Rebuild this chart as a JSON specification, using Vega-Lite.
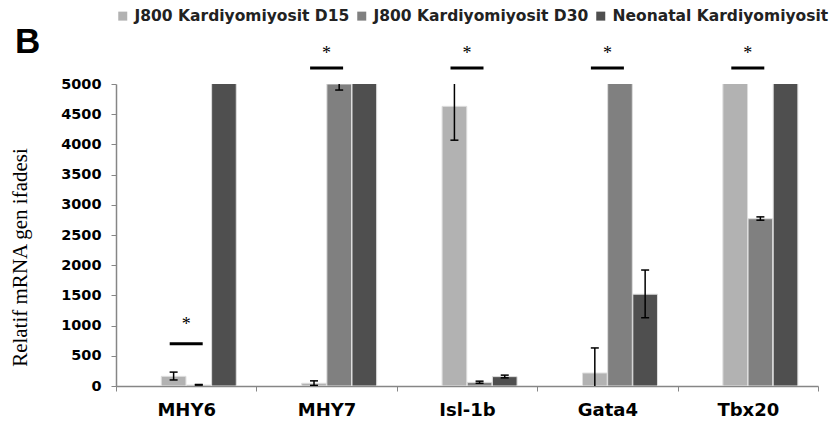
{
  "$schema": "https://vega.github.io/schema/vega-lite/v6.json",
  "width": 702,
  "height": 302,
  "autosize": {"type": "none"},
  "padding": {"left": 116, "top": 84, "right": 15, "bottom": 42},
  "background": "white",
  "title": {"text": "B", "anchor": "start", "frame": "group", "fontSize": 35, "font": "Liberation Sans", "fontWeight": "bold", "color": "black", "dx": -101, "offset": 30, "dy": 82},
  "config": {"view": {"stroke": null}},
  "datasets": {
    "bars": [
      {"gene": "MHY6", "group": "J800 Kardiyomiyosit D15", "value": 160},
      {"gene": "MHY6", "group": "J800 Kardiyomiyosit D30", "value": 15},
      {"gene": "MHY6", "group": "Neonatal Kardiyomiyosit", "value": 5600},
      {"gene": "MHY7", "group": "J800 Kardiyomiyosit D15", "value": 45},
      {"gene": "MHY7", "group": "J800 Kardiyomiyosit D30", "value": 5000},
      {"gene": "MHY7", "group": "Neonatal Kardiyomiyosit", "value": 5600},
      {"gene": "Isl-1b", "group": "J800 Kardiyomiyosit D15", "value": 4630},
      {"gene": "Isl-1b", "group": "J800 Kardiyomiyosit D30", "value": 60},
      {"gene": "Isl-1b", "group": "Neonatal Kardiyomiyosit", "value": 155},
      {"gene": "Gata4", "group": "J800 Kardiyomiyosit D15", "value": 215},
      {"gene": "Gata4", "group": "J800 Kardiyomiyosit D30", "value": 5600},
      {"gene": "Gata4", "group": "Neonatal Kardiyomiyosit", "value": 1520},
      {"gene": "Tbx20", "group": "J800 Kardiyomiyosit D15", "value": 5600},
      {"gene": "Tbx20", "group": "J800 Kardiyomiyosit D30", "value": 2770},
      {"gene": "Tbx20", "group": "Neonatal Kardiyomiyosit", "value": 5600}
    ],
    "errs": [
      {"gene": "MHY6", "group": "J800 Kardiyomiyosit D15", "lo": 100, "hi": 230},
      {"gene": "MHY6", "group": "J800 Kardiyomiyosit D30", "lo": 15, "hi": 25},
      {"gene": "MHY7", "group": "J800 Kardiyomiyosit D15", "lo": 10, "hi": 85},
      {"gene": "MHY7", "group": "J800 Kardiyomiyosit D30", "lo": 4900, "hi": 5100},
      {"gene": "Isl-1b", "group": "J800 Kardiyomiyosit D15", "lo": 4070, "hi": 5190},
      {"gene": "Isl-1b", "group": "J800 Kardiyomiyosit D30", "lo": 45, "hi": 80},
      {"gene": "Isl-1b", "group": "Neonatal Kardiyomiyosit", "lo": 135, "hi": 180},
      {"gene": "Gata4", "group": "J800 Kardiyomiyosit D15", "lo": -200, "hi": 630},
      {"gene": "Gata4", "group": "Neonatal Kardiyomiyosit", "lo": 1130, "hi": 1920},
      {"gene": "Tbx20", "group": "J800 Kardiyomiyosit D30", "lo": 2745, "hi": 2800}
    ],
    "sig": [
      {"gene": "MHY6", "line": 700, "star": 1010, "label": "*"},
      {"gene": "MHY7", "line": 5266, "star": 5500, "label": "*"},
      {"gene": "Isl-1b", "line": 5266, "star": 5500, "label": "*"},
      {"gene": "Gata4", "line": 5266, "star": 5500, "label": "*"},
      {"gene": "Tbx20", "line": 5266, "star": 5500, "label": "*"}
    ]
  },
  "encoding": {
    "x": {
      "field": "gene", "type": "nominal",
      "sort": ["MHY6", "MHY7", "Isl-1b", "Gata4", "Tbx20"],
      "scale": {"domain": ["MHY6", "MHY7", "Isl-1b", "Gata4", "Tbx20"], "paddingInner": 0, "paddingOuter": 0},
      "axis": {"title": null, "labelAngle": 0, "tickBand": "extent", "domainColor": "#868686", "tickColor": "#868686", "tickSize": 5, "labelPadding": 10, "labelFont": "DejaVu Sans", "labelFontWeight": "bold", "labelFontSize": 18, "labelColor": "black", "domainWidth": 1.5}
    }
  },
  "layer": [
    {
      "data": {"name": "bars"},
      "mark": {"type": "bar", "clip": true, "stroke": "#dedede", "strokeWidth": 1},
      "encoding": {
        "xOffset": {"field": "group", "type": "nominal", "scale": {"domain": ["_none", "J800 Kardiyomiyosit D15", "J800 Kardiyomiyosit D30", "Neonatal Kardiyomiyosit"], "paddingInner": 0.02, "paddingOuter": 0.8}},
        "y": {
          "field": "value", "type": "quantitative",
          "scale": {"domain": [0, 5000], "nice": false},
          "axis": {"title": "Relatif mRNA gen ifadesi", "titleFont": "Liberation Serif", "titleFontSize": 21, "titleFontWeight": "normal", "titleColor": "black", "titlePadding": 30, "titleY": 173, "format": "d", "labelOverlap": false, "values": [0, 500, 1000, 1500, 2000, 2500, 3000, 3500, 4000, 4500, 5000], "grid": false, "domainColor": "#868686", "tickColor": "#868686", "tickSize": 5, "labelPadding": 10, "labelFont": "DejaVu Sans", "labelFontWeight": "bold", "labelFontSize": 14.5, "labelColor": "black", "domainWidth": 1.5}
        },
        "color": {
          "field": "group", "type": "nominal",
          "scale": {"domain": ["J800 Kardiyomiyosit D15", "J800 Kardiyomiyosit D30", "Neonatal Kardiyomiyosit"], "range": ["#b2b2b2", "#808080", "#4f4f4f"]},
          "legend": {"title": null, "orient": "none", "direction": "horizontal", "legendX": -1, "legendY": -76, "symbolType": "square", "symbolSize": 81, "symbolStrokeWidth": 0, "labelFont": "DejaVu Sans", "labelFontWeight": "bold", "labelFontSize": 15.5, "labelColor": "#222222", "columnPadding": 4, "labelOffset": 4, "labelLimit": 300}
        }
      }
    },
    {
      "data": {"name": "errs"},
      "mark": {"type": "rule", "clip": true, "color": "black", "strokeWidth": 1.5},
      "encoding": {
        "xOffset": {"field": "group", "type": "nominal"},
        "y": {"field": "lo", "type": "quantitative",
          "axis": {"title": "Relatif mRNA gen ifadesi", "titleFont": "Liberation Serif", "titleFontSize": 21, "titleFontWeight": "normal", "titleColor": "black", "titlePadding": 30, "titleY": 173, "format": "d", "labelOverlap": false, "values": [0, 500, 1000, 1500, 2000, 2500, 3000, 3500, 4000, 4500, 5000], "grid": false, "domainColor": "#868686", "tickColor": "#868686", "tickSize": 5, "labelPadding": 10, "labelFont": "DejaVu Sans", "labelFontWeight": "bold", "labelFontSize": 14.5, "labelColor": "black", "domainWidth": 1.5}},
        "y2": {"field": "hi"}
      }
    },
    {
      "data": {"name": "errs"},
      "mark": {"type": "tick", "clip": true, "color": "black", "size": 8, "thickness": 1.5, "opacity": 1},
      "encoding": {
        "xOffset": {"field": "group", "type": "nominal"},
        "y": {"field": "lo", "type": "quantitative",
          "axis": {"title": "Relatif mRNA gen ifadesi", "titleFont": "Liberation Serif", "titleFontSize": 21, "titleFontWeight": "normal", "titleColor": "black", "titlePadding": 30, "titleY": 173, "format": "d", "labelOverlap": false, "values": [0, 500, 1000, 1500, 2000, 2500, 3000, 3500, 4000, 4500, 5000], "grid": false, "domainColor": "#868686", "tickColor": "#868686", "tickSize": 5, "labelPadding": 10, "labelFont": "DejaVu Sans", "labelFontWeight": "bold", "labelFontSize": 14.5, "labelColor": "black", "domainWidth": 1.5}}
      }
    },
    {
      "data": {"name": "errs"},
      "mark": {"type": "tick", "clip": true, "color": "black", "size": 8, "thickness": 1.5, "opacity": 1},
      "encoding": {
        "xOffset": {"field": "group", "type": "nominal"},
        "y": {"field": "hi", "type": "quantitative",
          "axis": {"title": "Relatif mRNA gen ifadesi", "titleFont": "Liberation Serif", "titleFontSize": 21, "titleFontWeight": "normal", "titleColor": "black", "titlePadding": 30, "titleY": 173, "format": "d", "labelOverlap": false, "values": [0, 500, 1000, 1500, 2000, 2500, 3000, 3500, 4000, 4500, 5000], "grid": false, "domainColor": "#868686", "tickColor": "#868686", "tickSize": 5, "labelPadding": 10, "labelFont": "DejaVu Sans", "labelFontWeight": "bold", "labelFontSize": 14.5, "labelColor": "black", "domainWidth": 1.5}}
      }
    },
    {
      "data": {"name": "sig"},
      "mark": {"type": "tick", "color": "black", "size": 33, "thickness": 3, "opacity": 1},
      "encoding": {
        "y": {"field": "line", "type": "quantitative",
          "axis": {"title": "Relatif mRNA gen ifadesi", "titleFont": "Liberation Serif", "titleFontSize": 21, "titleFontWeight": "normal", "titleColor": "black", "titlePadding": 30, "titleY": 173, "format": "d", "labelOverlap": false, "values": [0, 500, 1000, 1500, 2000, 2500, 3000, 3500, 4000, 4500, 5000], "grid": false, "domainColor": "#868686", "tickColor": "#868686", "tickSize": 5, "labelPadding": 10, "labelFont": "DejaVu Sans", "labelFontWeight": "bold", "labelFontSize": 14.5, "labelColor": "black", "domainWidth": 1.5}}
      }
    },
    {
      "data": {"name": "sig"},
      "mark": {"type": "text", "color": "black", "font": "Liberation Serif", "fontSize": 18, "baseline": "middle"},
      "encoding": {
        "y": {"field": "star", "type": "quantitative",
          "axis": {"title": "Relatif mRNA gen ifadesi", "titleFont": "Liberation Serif", "titleFontSize": 21, "titleFontWeight": "normal", "titleColor": "black", "titlePadding": 30, "titleY": 173, "format": "d", "labelOverlap": false, "values": [0, 500, 1000, 1500, 2000, 2500, 3000, 3500, 4000, 4500, 5000], "grid": false, "domainColor": "#868686", "tickColor": "#868686", "tickSize": 5, "labelPadding": 10, "labelFont": "DejaVu Sans", "labelFontWeight": "bold", "labelFontSize": 14.5, "labelColor": "black", "domainWidth": 1.5}},
        "text": {"field": "label"}
      }
    }
  ]
}
